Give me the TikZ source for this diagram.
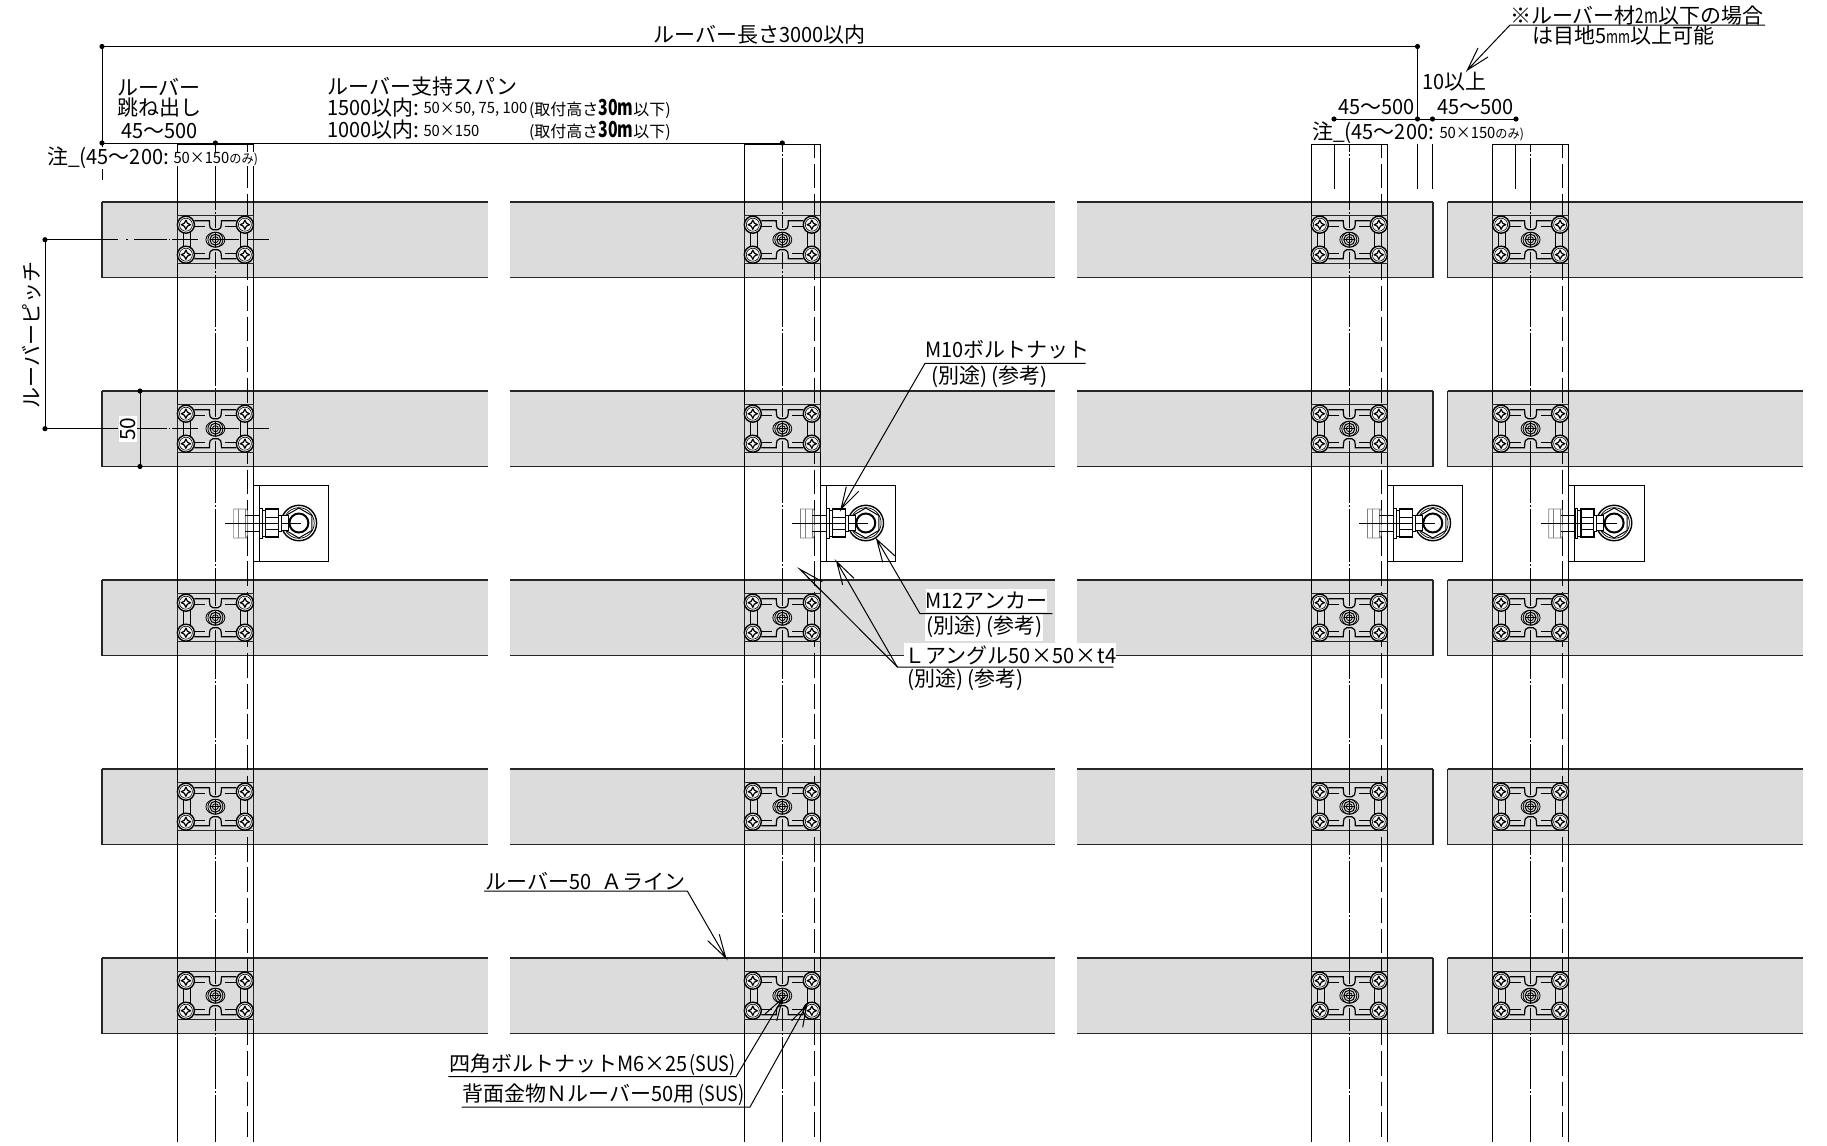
\documentclass[tikz,border=0pt]{standalone}
\usepackage{fontspec}
\setmainfont{Noto Sans CJK JP}
\newfontfamily\narrowjp[FakeStretch=0.95]{Noto Sans CJK JP}
\newfontfamily\boldjp[FakeStretch=0.72]{Noto Sans CJK JP}
\newfontfamily\midjp[FakeStretch=0.85]{Noto Sans CJK JP}
\definecolor{louver}{HTML}{DCDCDC}
\newcommand{\nmb}[1]{{\narrowjp #1}}
\newcommand{\smalltxt}{\fontsize{8pt}{8pt}\selectfont}
\newcommand{\smallnum}{\fontsize{7.8pt}{7.8pt}\narrowjp}
\newcommand{\boldnum}{\fontsize{11pt}{11pt}\boldjp\bfseries}
\newcommand{\sepnote}{\kern.5pt(別途)\kern2pt(参考)\kern.5pt}
\newcommand{\onlytxt}{{\fontsize{6.4pt}{6.4pt}\selectfont のみ)}}
\tikzset{
  ln/.style={line width=0.5pt,black},
  bar/.style={fill=louver,draw=none},
  edge/.style={line width=0.7pt,black!85},
  centerln/.style={line width=0.45pt,black,dash pattern=on 26.3pt off 1pt on 1pt off 1pt,dash phase=22.5pt},
  hiddenln/.style={line width=0.45pt,black,dash pattern=on 12.4pt off 2.9pt,dash phase=5.5pt},
  rowcenter/.style={ln,dash pattern=on 36.5pt off 4pt on 1pt off 3pt on 16.5pt off 1pt on .5pt off 1pt on 13pt off 10pt on 10.5pt off 4pt on 11pt off 100pt},
  label/.style={anchor=west,inner sep=0pt,outer sep=0pt,font=\fontsize{10.5pt}{10.5pt}\selectfont},
  white label/.style={label,fill=white},
  dim dot/.style={circle,fill=black,inner sep=0pt,minimum size=2.6pt},
  bracket/.pic={
    \draw[line width=0.65pt,fill=louver,draw=black!85] (-38,-24) rectangle (38,24);
    \foreach \s in {-1,1}{
      \draw[line width=0.6pt] (-21,\s*19) -- (-6,\s*19) .. controls (-6,\s*12) and (-5,\s*10) .. (-2.5,\s*10) -- (2.5,\s*10) .. controls (5,\s*10) and (6,\s*12) .. (6,\s*19) -- (21,\s*19);
      \draw[line width=0.6pt] (-21,\s*13.5) -- (-10,\s*13.5) (10,\s*13.5) -- (21,\s*13.5);
      \draw[line width=0.6pt] (\s*32,-7) -- (\s*32,7) (\s*25,-8) -- (\s*25,8);
    }
    \draw[ln] (0,-24) -- (0,-12) (0,12) -- (0,24);
    \foreach \a/\b in {-29.5/-15,29.5/-15,-29.5/15,29.5/15}{
      \draw[line width=0.7pt,fill=black!4] (\a,\b) circle (8.5);
      \draw[line width=0.3pt] (\a,\b) circle (6.5);
      \draw[line width=0.6pt,fill=white,line join=round,shift={(\a,\b)}] (0,-4.6) -- (1.5,-1.5) -- (4.6,0) -- (1.5,1.5) -- (0,4.6) -- (-1.5,1.5) -- (-4.6,0) -- (-1.5,-1.5) -- cycle;
    }
    \draw[line width=0.4pt] (0,0) ellipse (9.5 and 7.5);
    \draw[line width=0.4pt] (0,0) ellipse (7.5 and 7.5);
    \draw[line width=0.5pt] (0,0) circle (5.5);
    \draw[line width=0.4pt] (0,0) circle (3);
    \draw[line width=0.4pt] (-5,0) -- (5,0) (0,-7) -- (0,7);
  },
  anchorset/.pic={
    \draw[ln,fill=white] (0,-37.5) rectangle (75.5,38.5);
    \draw[ln] (5.8,-37.5) -- (5.8,38.5);
    \draw[line width=0.35pt,black!50] (-19.8,-14) -- (-7,-14) -- (-6,-12) -- (-6,12) -- (-7,15) -- (-19.8,15) -- cycle;
    \draw[line width=0.35pt,black!50] (-8,-14) -- (-8,15) (-15,-14) -- (-15,15);
    \draw[ln] (-8,-8) -- (12,-8) (-8,8) -- (12,8);
    \draw[ln] (-28,0) -- (45,0);
    \draw[ln,fill=white] (6.5,-15) rectangle (9.2,15);
    \draw[ln,fill=white] (9.2,-13) rectangle (12.2,13);
    \draw[line width=0.7pt,fill=white] (12.2,-14) rectangle (25.2,14);
    \draw[ln] (12.2,-6) -- (25.2,-6) (12.2,6) -- (25.2,6);
    \draw[ln] (-6,0) -- (25,0);
    \draw[line width=0.7pt,fill=white] (45.5,0) circle (17.7);
    \draw[line width=0.35pt] (45.5,0) circle (15.3);
    \draw[ln] (45.5,-15) -- ++(13,7.5) -- ++(0,15) -- ++(-13,7.5) -- ++(-13,-7.5) -- ++(0,-15) -- cycle;
    \draw[line width=1pt] (45.5,0) circle (9.5);
    \draw[ln,fill=white] (25.2,-8) rectangle (28,8);
    \draw[ln,fill=white] (28,-7.5) rectangle (35,7.5);
    \draw[ln] (28,0) -- (48,0);
  }
}
\begin{document}
\begin{tikzpicture}[x=0.5pt,y=-0.5pt]
\useasboundingbox (0,0) rectangle (1827,1146);
% louver bars
\foreach \t in {202,391,580,769,958}{
  \pgfmathsetmacro{\b}{\t+75.5}
  \foreach \l/\r in {102/488,510/1055,1077/1433,1447.5/1803}{
    \fill[louver] (\l,\t) rectangle (\r,\b);
    \draw[edge] (\l,\t) -- (\r,\t) (\l,\b) -- (\r,\b);
  }
  \draw[edge] (102,\t) -- (102,\b);
  \draw[edge] (1433,\t) -- (1433,\b);
  \draw[edge] (1447.5,\t) -- (1447.5,\b);
}
% columns
\foreach \l in {177.6,744.5,1311.5,1492.8}{
  \pgfmathsetmacro{\c}{\l+37.8}
  \pgfmathsetmacro{\d}{\l+69.6}
  \pgfmathsetmacro{\r}{\l+75.8}
  \draw[ln] (\l,144) -- (\l,1142) (\r,144) -- (\r,1142);
  \draw[centerln] (\c,144) -- (\c,1142);
  \draw[hiddenln] (\d,144) -- (\d,1142);
  \draw[ln] (\l,144) -- (\r,144);
  \foreach \y in {239.7,428.7,617.7,806.7,995.7}{
    \pic at (\c,\y) {bracket};
  }
  \pic at (\r,523) {anchorset};
}
% dimension coordinates
\coordinate (dA) at (102,46.5);
\coordinate (dB) at (1417.5,46.5);
\coordinate (dC) at (102,143);
\coordinate (dD) at (215.4,143);
\coordinate (dE) at (782.3,143);
\coordinate (dF) at (1334,119);
\coordinate (dG) at (1417.5,119);
\coordinate (dH) at (1432.5,119);
\coordinate (dI) at (1516,119);
\coordinate (pA) at (45,239.7);
\coordinate (pB) at (45,428.7);
\coordinate (pAe) at (269,239.7);
\coordinate (pBe) at (269,428.7);
\coordinate (hA) at (140,391);
\coordinate (hB) at (140,466.5);
\draw[ln] (dA) -- (dB) -- (dG);
\draw[ln] (dA) -- (dC) -- (dE);
\draw[ln] (dF) -- (dI);
\draw[ln] (102,143) -- (102,180);
\draw[ln] (1334,144) -- (1334,189) (1417.5,144) -- (1417.5,189) (1432.5,144) -- (1432.5,189) (1515.5,144) -- (1515.5,189);
\draw[ln] (hA) -- (hB);
\draw[ln] (pA) -- (pB);
\draw[rowcenter] (pA) -- (pAe);
\draw[rowcenter] (pB) -- (pBe);
\foreach \p in {dA,dB,dC,dD,dE,dF,dG,dH,dI,pA,pB,hA,hB} \node[dim dot] at (\p) {};
% top texts
\node[label] (tLen) at (653.5,35) {ルーバー長さ\nmb{3000}以内};
\node[label] (tA1) at (117,87) {ルーバー};
\node[label] (tA2) at (117,108) {跳ね出し};
\node[label] (tA3) at (121,131) {\nmb{45}～\nmb{500}};
\node[label] (tB1) at (327.5,87) {ルーバー支持スパン};
\node[label] (tB2) at (327.5,108) {\nmb{1500}以内:};
\node[label] (tB3) at (327.5,130) {\nmb{1000}以内:};
\node[label,font=\smallnum] (tB2s) at (423.5,109) {50×50, 75, 100};
\node[label,font=\smallnum] (tB3s) at (423.5,131) {50×150};
\node[label,font=\smalltxt] (tB2h) at (529,109) {(取付高さ{\boldnum 30m}以下)};
\node[label,font=\smalltxt] (tB3h) at (529,131) {(取付高さ{\boldnum 30m}以下)};
\node[white label] (tC1) at (47,158) {注\_(\nmb{45}～\nmb{200}:};
\node[white label,font=\smallnum] (tC1s) at (173.5,159) {50×150\onlytxt};
\node[label] (tC2) at (1312,133) {注\_(\nmb{45}～\nmb{200}:};
\node[label,font=\smallnum] (tC2s) at (1439.5,134) {50×150\onlytxt};
\node[label] (tD1) at (1338.5,107) {\nmb{45}～\nmb{500}};
\node[label] (tD2) at (1437,107) {\nmb{45}～\nmb{500}};
\node[label] (tD3) at (1422,82) {\nmb{10}以上};
\node[label] (tE1) at (1510,16) {※ルーバー材{\boldjp 2m}以下の場合};
\node[label] (tE2) at (1532,36) {は目地\nmb{5}{\fontsize{9pt}{9pt}\boldjp mm}以上可能};
\coordinate (uE1) at (1510,25);
\coordinate (uE2) at (1765,25);
\coordinate (aE) at (1467.4,70);
\draw[ln] (uE2) -- (uE1) -- (aE) -- (1478,48) (aE) -- (1488,57);
% pitch
\node[anchor=center,inner sep=0pt,rotate=90,font=\fontsize{10.5pt}{10.5pt}\selectfont] (tP) at (31.7,335) {ルーバーピッチ};
\node[anchor=center,fill=white,inner sep=0.6pt,rotate=90,font=\fontsize{10.5pt}{10.5pt}\selectfont] (t50) at (128,429) {50};
% M10
\node[label] (tM1) at (925.5,350) {\nmb{M10}ボルトナット};
\node[label] (tM2) at (930.5,377) {\sepnote};
\coordinate (uM1) at (925,363.3);
\coordinate (uM2) at (1085.7,363.3);
\coordinate (aM) at (841,509);
\draw[ln] (uM2) -- (uM1) -- (aM) -- (846.3,486.7) (aM) -- (858.7,491.3);
% M12
\node[white label,inner ysep=1.5pt] (tN1) at (925.5,600.7) {\nmb{M12}アンカー};
\node[white label,inner ysep=1.5pt] (tN2) at (925,627) {\sepnote};
\coordinate (uN1) at (920,613.7);
\coordinate (uN2) at (1052.3,613.7);
\coordinate (aN) at (876.7,539.3);
\draw[ln] (uN2) -- (uN1) -- (aN) -- (895,556) (aN) -- (882.7,562.3);
% L angle
\node[white label,inner ysep=1pt] (tL1) at (904,655) {Ｌアングル\nmb{50}\kern.4pt×\kern.4pt\nmb{50}\kern.4pt×\kern.4pt\nmb{t4}};
\node[label] (tL2) at (906.5,680) {\sepnote};
\coordinate (uL1) at (897.3,667);
\coordinate (uL2) at (1113.3,667);
\coordinate (aL1) at (836.7,561.7);
\coordinate (aL2) at (800,569.3);
\draw[ln] (uL2) -- (uL1) -- (aL1) -- (854,578.3) (aL1) -- (842.7,585);
\draw[ln] (uL1) -- (aL2) -- (822.3,581.7) (aL2) -- (820,590);
% louver line label
\node[label] (tR) at (485.7,881.7) {ルーバー\nmb{50}\kern5pt Ａライン};
\coordinate (uR1) at (484,891);
\coordinate (uR2) at (687.3,891);
\coordinate (aR) at (725.7,957.7);
\draw[ln] (uR1) -- (uR2) -- (aR) -- (707.7,940.7) (aR) -- (719.3,934.3);
% bottom labels
\node[label] (tS) at (449,1065) {四角ボルトナット\nmb{M6}×\nmb{25}\kern1pt{\midjp (SUS)}};
\coordinate (uS1) at (448.3,1076.7);
\coordinate (uS2) at (736,1076.7);
\coordinate (aS) at (782.7,998.3);
\draw[ln] (uS1) -- (uS2) -- (aS) -- (765,1014) (aS) -- (776.7,1020.7);
\node[label] (tK) at (462.7,1095) {背面金物Ｎルーバー\nmb{50}用\kern2pt{\midjp (SUS)}};
\coordinate (uK1) at (461.7,1107);
\coordinate (uK2) at (750,1107);
\coordinate (aK) at (806.7,1005);
\draw[ln] (uK1) -- (uK2) -- (aK) -- (791.7,1020.7) (aK) -- (802.7,1027.3);
\end{tikzpicture}
\end{document}
